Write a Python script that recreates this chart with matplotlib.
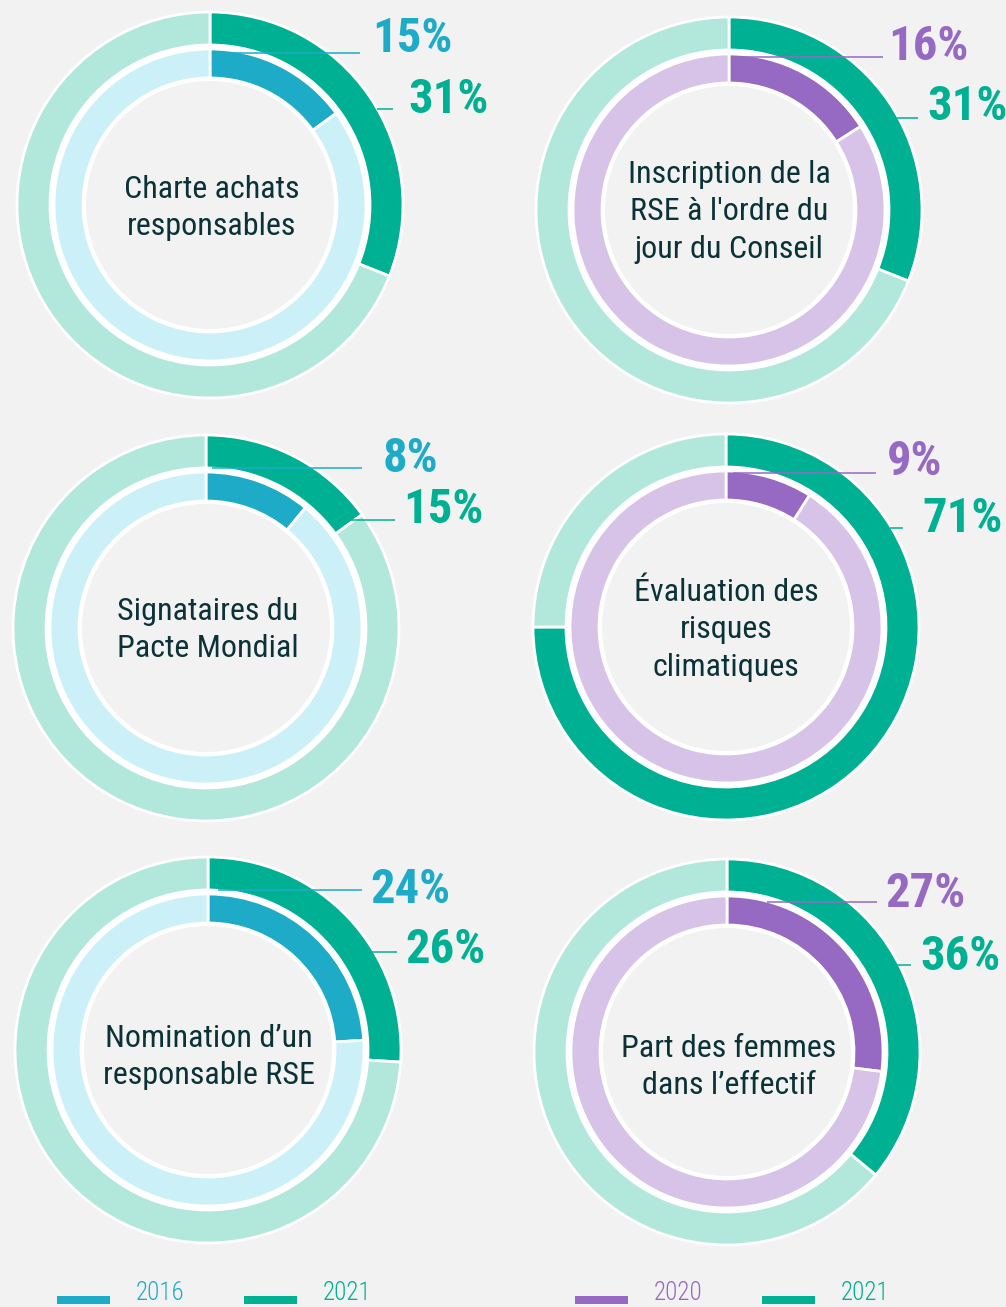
import matplotlib
matplotlib.use("Agg")
import matplotlib.pyplot as plt
from matplotlib import font_manager
from matplotlib.patches import Wedge, Rectangle

# ---------------- data ----------------
titles = [
    "Charte achats\nresponsables",
    "Inscription de la\nRSE à l'ordre du\njour du Conseil",
    "Signataires du\nPacte Mondial",
    "Évaluation des\nrisques\nclimatiques",
    "Nomination d’un\nresponsable RSE",
    "Part des femmes\ndans l’effectif",
]
inner_labels = ["15%", "16%", "8%", "9%", "24%", "27%"]
outer_labels = ["31%", "31%", "15%", "71%", "26%", "36%"]
# arc sizes as drawn in the picture (percent of the ring)
inner_values = [15, 16, 11, 9, 24, 27]
outer_values = [31, 31, 15, 75, 26, 36]
legend_left = ["2016", "2021"]
legend_right = ["2020", "2021"]

# ---------------- style ----------------
BG = "#f2f2f2"
GREEN = "#00b092"
GREEN_L = "#b2e7dc"
BLUE = "#1eabc8"
BLUE_L = "#ccf0f7"
PURPLE = "#9669c3"
PURPLE_L = "#d6c3e7"
DARK = "#0b3236"

names = {f.name for f in font_manager.fontManager.ttflist}
FONT = "DejaVu Sans"
for cand in ["Liberation Sans Narrow", "DejaVu Sans Condensed", "Roboto Condensed", "Roboto"]:
    if cand in names:
        FONT = cand
        break
plt.rcParams["font.family"] = [FONT, "DejaVu Sans"]

W, H = 1006, 1307
fig = plt.figure(figsize=(W / 100, H / 100), dpi=100, facecolor=BG)
ax = fig.add_axes([0, 0, 1, 1])
ax.set_facecolor(BG)

centers = [(210, 205), (729, 210), (206, 628), (726, 627), (208, 1050), (727, 1052)]
text_centers = [(212, 208), (729, 212), (208, 630), (726, 630), (209, 1057), (729, 1067)]
# (text_x, baseline_y, line_y, line_x0, line_x1) for inner and outer labels
inner_pos = [(372, 52, 53, 215, 360), (888, 60, 57, 740, 883), (383, 472, 468, 212, 362),
             (887, 475, 473, 733, 876), (370, 903, 890, 218, 362), (885, 907, 902, 767, 877)]
outer_pos = [(408, 113, 109, 377, 393), (927, 120, 118, 897, 918), (403, 523, 520, 350, 395),
             (922, 532, 528, 890, 903), (405, 963, 952, 372, 397), (920, 970, 965, 897, 911)]

R_OUT, W_OUT = 193, 33
R_IN, W_IN = 156, 29
EDGE = 2.0

for i in range(6):
    cx, cy = centers[i]
    left = (i % 2 == 0)
    c_in, c_in_l = (BLUE, BLUE_L) if left else (PURPLE, PURPLE_L)
    # outer ring
    ax.pie([outer_values[i], 100 - outer_values[i]], colors=[GREEN, GREEN_L],
           center=(cx, cy), radius=R_OUT, startangle=-90, counterclock=True,
           wedgeprops=dict(width=W_OUT, edgecolor="white", linewidth=EDGE))
    # white band behind inner ring
    ax.add_patch(Wedge((cx, cy), R_OUT - W_OUT, 0, 360, width=(R_OUT - W_OUT) - (R_IN - W_IN) + 3,
                       facecolor="white", edgecolor="none", zorder=1.5))
    ax.pie([inner_values[i], 100 - inner_values[i]], colors=[c_in, c_in_l],
           center=(cx, cy), radius=R_IN, startangle=-90, counterclock=True,
           wedgeprops=dict(width=W_IN, edgecolor="white", linewidth=EDGE, zorder=2))
    tx, ty = text_centers[i]
    ax.text(tx, ty, titles[i], ha="center", va="center", fontsize=23, color=DARK,
            fontweight="normal", linespacing=1.38, zorder=5)
    # labels
    x, yb, ly, x0, x1 = inner_pos[i]
    ax.plot([x0, x1], [ly, ly], color=c_in, lw=1.1, zorder=4, solid_capstyle="butt")
    ax.text(x, yb, inner_labels[i], ha="left", va="baseline", fontsize=35,
            fontweight="bold", color=c_in, zorder=5)
    x, yb, ly, x0, x1 = outer_pos[i]
    ax.plot([x0, x1], [ly, ly], color=GREEN, lw=1.1, zorder=4, solid_capstyle="butt")
    ax.text(x, yb, outer_labels[i], ha="left", va="baseline", fontsize=35,
            fontweight="bold", color=GREEN, zorder=5)

# legend
leg_items = [(57, legend_left[0], BLUE), (244, legend_left[1], GREEN),
             (575, legend_right[0], PURPLE), (762, legend_right[1], GREEN)]
for x, lab, col in leg_items:
    ax.add_patch(Rectangle((x, 1296), 53, 8, facecolor=col, edgecolor="none"))
    ax.text(x + 79, 1305, lab, ha="left", va="bottom", fontsize=18,
            fontweight="light", color=col)

ax.set_xlim(0, W)
ax.set_ylim(H, 0)
ax.set_aspect("auto")
ax.axis("off")
fig.savefig("out.png", dpi=100, facecolor=BG)
